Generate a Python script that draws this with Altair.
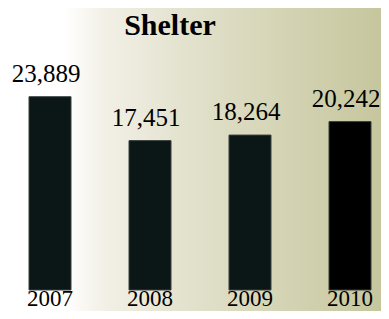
import altair as alt
import pandas as pd

years = ["2007", "2008", "2009", "2010"]
values = [23889, 17451, 18264, 20242]
labels = ["23,889", "17,451", "18,264", "20,242"]
title_text = ["Shelter"]

base_value = -4442

df = pd.DataFrame({"year": years, "value": values, "label": labels, "base": [base_value] * 4})
bg_df = pd.DataFrame({"k": [0]})
title_df = pd.DataFrame({"t": title_text})

grad = alt.LinearGradient(
    gradient="linear",
    stops=[
        alt.GradientStop(offset=0.0, color="#ffffff"),
        alt.GradientStop(offset=0.153, color="#ffffff"),
        alt.GradientStop(offset=0.247, color="#f3f1e8"),
        alt.GradientStop(offset=0.488, color="#e2e1cc"),
        alt.GradientStop(offset=0.756, color="#d3d3b3"),
        alt.GradientStop(offset=1.0, color="#c6c69e"),
    ],
    x1=0, x2=1, y1=0, y2=0,
)

W = 373
H = 303

bg = alt.Chart(bg_df).mark_rect(fill=grad).encode(
    x=alt.value(0), x2=alt.value(W), y=alt.value(0), y2=alt.value(H)
)

xscale = alt.Scale(domain=years, range=[-8, 392], paddingInner=0.58, paddingOuter=0.29)
yscale = alt.Scale(domain=[base_value, 36889], range=[282, 0], nice=False, zero=False)

base = alt.Chart(df).encode(
    x=alt.X("year:N", scale=xscale, sort=years, axis=None),
)

bars = base.mark_bar(stroke="#3a3f3f", strokeWidth=1).encode(
    y=alt.Y("value:Q", scale=yscale, axis=None),
    y2="base:Q",
    fill=alt.condition(alt.datum.year == "2010", alt.value("#000000"), alt.value("#0b1616")),
)

text = base.mark_text(font="Liberation Serif", fontSize=25, baseline="alphabetic",
                      dy=-15, dx=-4, color="#000000").encode(
    y=alt.Y("value:Q", scale=yscale, axis=None),
    text="label:N",
)

year_text = base.mark_text(font="Liberation Serif", fontSize=23, baseline="alphabetic",
                           dy=16, color="#000000").encode(
    y=alt.Y("base:Q", scale=yscale, axis=None),
    text="year:N",
)

title = alt.Chart(title_df).mark_text(font="Liberation Serif", fontSize=30, fontWeight="bold",
                                      baseline="alphabetic", align="center", color="#000000").encode(
    x=alt.value(162), y=alt.value(27), text="t:N"
)

chart = alt.layer(bg, bars, text, year_text, title).properties(
    width=W, height=H,
    autosize=alt.AutoSizeParams(type="none"),
    padding=0,
).configure_view(stroke=None)

chart.save("out.html", embed_options={"renderer": "svg", "actions": False})
